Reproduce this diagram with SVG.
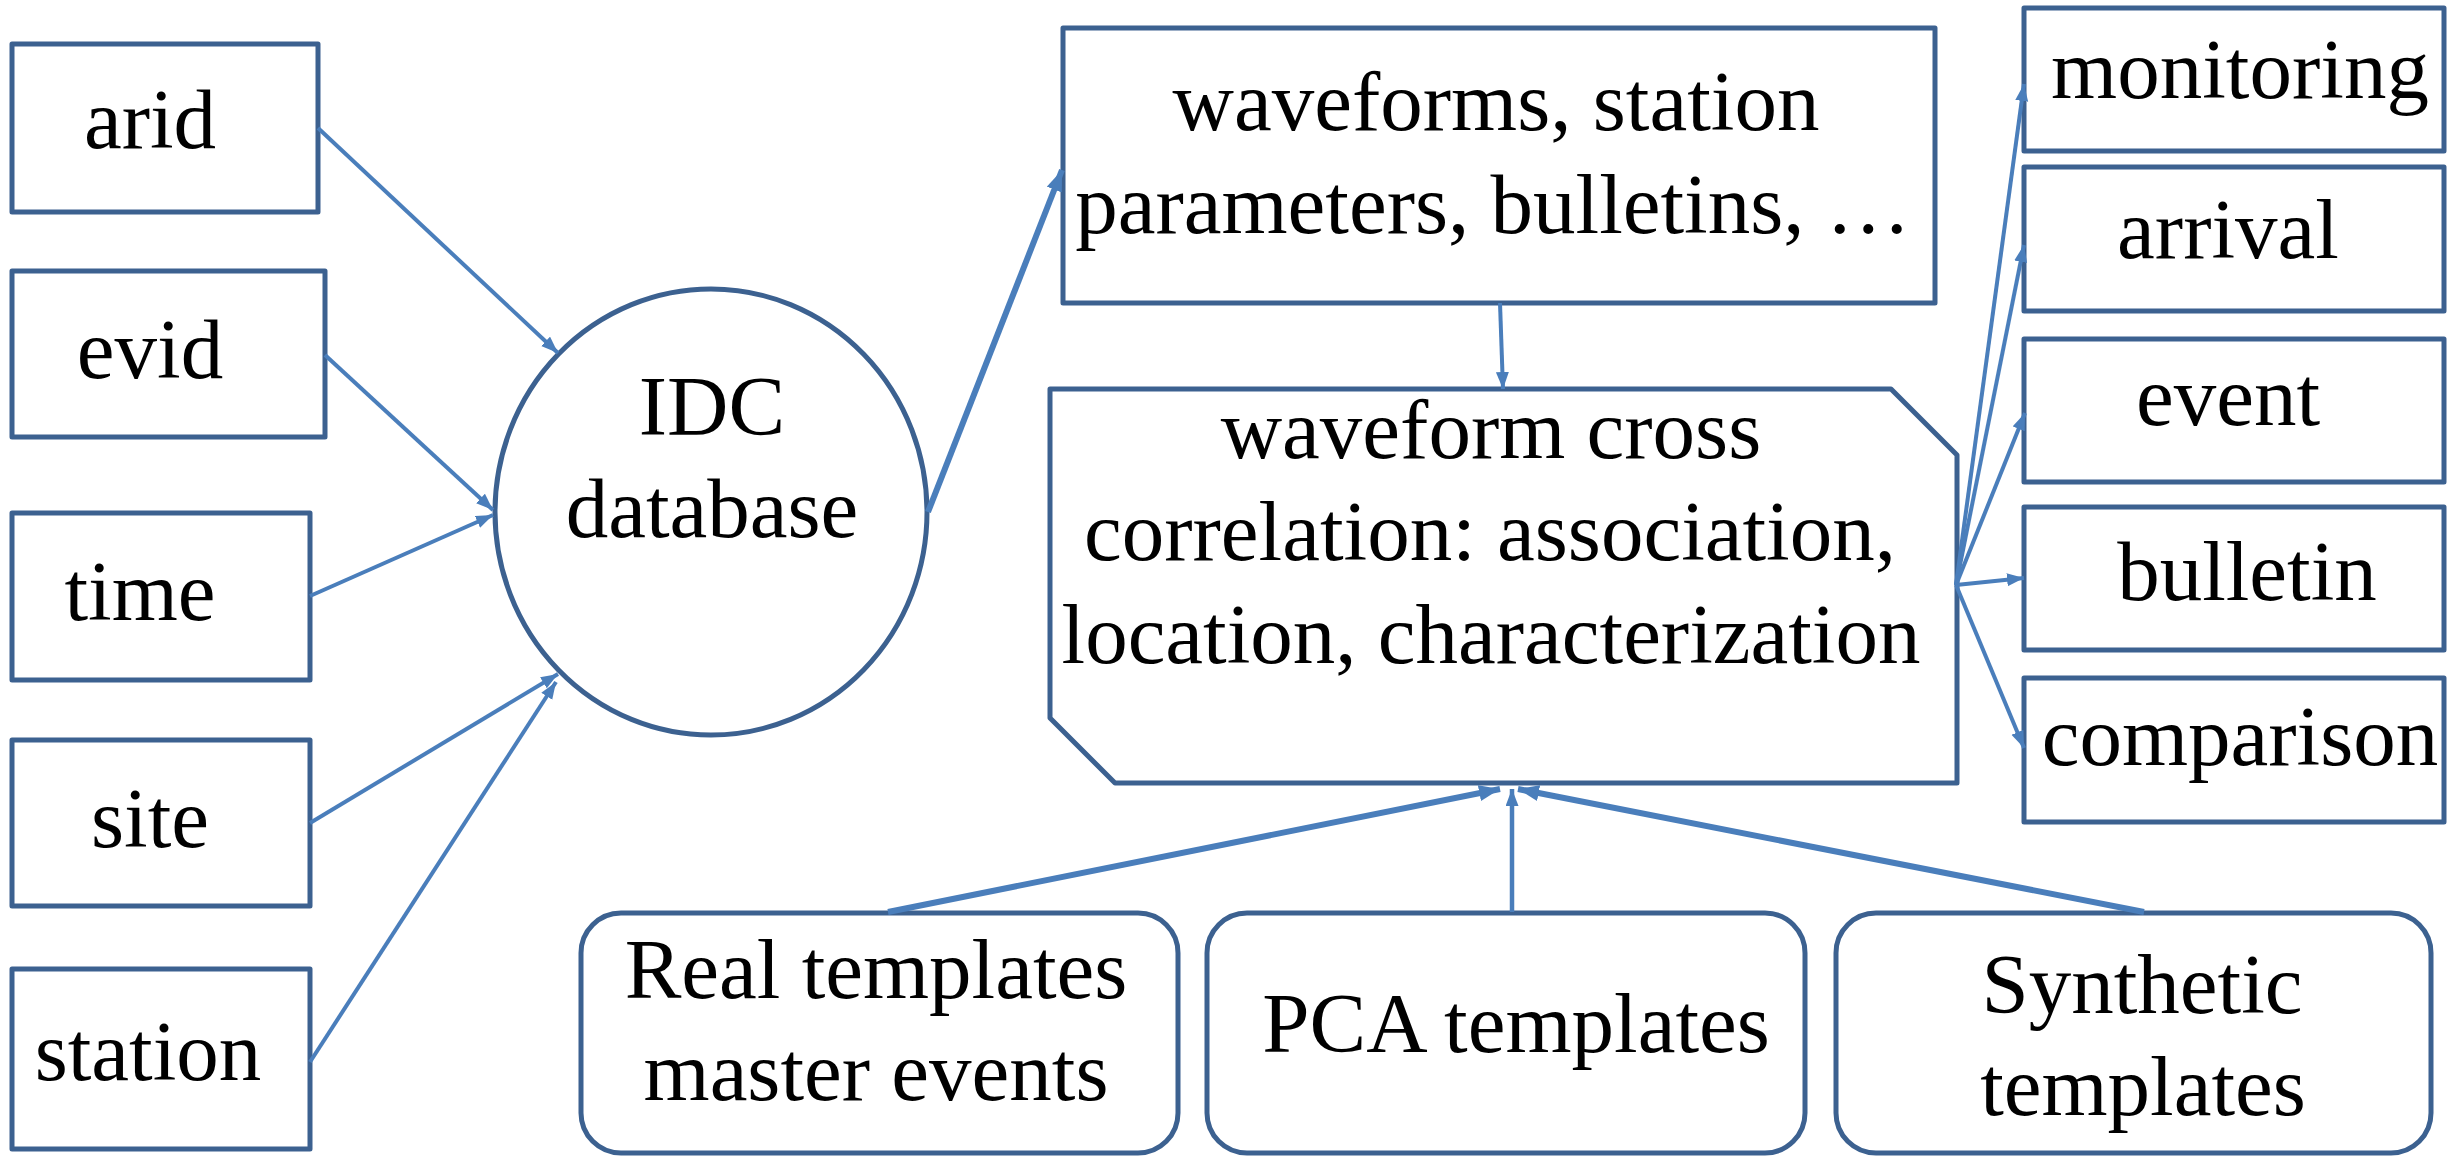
<svg xmlns="http://www.w3.org/2000/svg" width="2448" height="1156" viewBox="0 0 2448 1156">
  <style>
    .box { fill: #ffffff; stroke: #3C6190; stroke-width: 5; stroke-linejoin: round; }
    .lbl { font-family: 'Liberation Serif', 'Times New Roman', Times, serif; font-size: 85px; fill: #000000; text-anchor: middle; }
    .arr { fill: none; stroke: #4A7EBB; stroke-width: 4; marker-end: url(#head); }
    .arr.mid { stroke-width: 4.5; }
    .arr.thick { stroke-width: 6; marker-end: url(#headBig); }
  </style>
  <defs>
    <marker id="head" markerUnits="userSpaceOnUse" markerWidth="20" markerHeight="14" refX="17" refY="6.5" orient="auto">
      <path d="M0,0 L17,6.5 L0,13 z" fill="#4A7EBB"/>
    </marker>
    <marker id="headBig" markerUnits="userSpaceOnUse" markerWidth="24" markerHeight="18" refX="21" refY="8" orient="auto">
      <path d="M0,0 L21,8 L0,16 z" fill="#4A7EBB"/>
    </marker>
  </defs>

  <rect width="2448" height="1156" fill="#ffffff"/>

  <!-- database fields -->
  <g id="arid">
    <rect class="box" x="12" y="44" width="306" height="168"/>
    <text class="lbl" x="150" y="148">arid</text>
  </g>
  <g id="evid">
    <rect class="box" x="12" y="271" width="313" height="166"/>
    <text class="lbl" x="150" y="378">evid</text>
  </g>
  <g id="time">
    <rect class="box" x="12" y="513" width="298" height="167"/>
    <text class="lbl" x="140" y="620">time</text>
  </g>
  <g id="site">
    <rect class="box" x="12" y="740" width="298" height="166"/>
    <text class="lbl" x="150" y="847">site</text>
  </g>
  <g id="station">
    <rect class="box" x="12" y="969" width="298" height="180"/>
    <text class="lbl" x="148" y="1080">station</text>
  </g>

  <!-- central database -->
  <g id="idc-database">
    <ellipse class="box" cx="711" cy="512" rx="216" ry="223"/>
    <text class="lbl" x="712" y="435">IDC</text>
    <text class="lbl" x="712" y="537">database</text>
  </g>

  <!-- data products -->
  <g id="waveforms">
    <rect class="box" x="1063" y="28" width="872" height="275"/>
    <text class="lbl" x="1496" y="130">waveforms, station</text>
    <text class="lbl" x="1493" y="233">parameters, bulletins, …</text>
  </g>

  <g id="cross-correlation">
    <path class="box" d="M1050,389 L1891,389 L1957,455 L1957,783 L1115,783 L1050,718 Z"/>
    <text class="lbl" x="1491" y="458">waveform cross</text>
    <text class="lbl" x="1490" y="560">correlation: association,</text>
    <text class="lbl" x="1491" y="663">location, characterization</text>
  </g>

  <!-- outputs -->
  <g id="monitoring">
    <rect class="box" x="2024" y="8" width="420" height="143"/>
    <text class="lbl" x="2240" y="98">monitoring</text>
  </g>
  <g id="arrival">
    <rect class="box" x="2024" y="167" width="420" height="144"/>
    <text class="lbl" x="2228" y="258">arrival</text>
  </g>
  <g id="event">
    <rect class="box" x="2024" y="339" width="420" height="143"/>
    <text class="lbl" x="2228" y="425">event</text>
  </g>
  <g id="bulletin">
    <rect class="box" x="2024" y="507" width="420" height="143"/>
    <text class="lbl" x="2247" y="600">bulletin</text>
  </g>
  <g id="comparison">
    <rect class="box" x="2024" y="678" width="420" height="144"/>
    <text class="lbl" x="2240" y="765">comparison</text>
  </g>

  <!-- template sources -->
  <g id="real-templates">
    <rect class="box" x="581" y="913" width="597" height="240" rx="40" ry="40"/>
    <text class="lbl" x="876" y="998">Real templates</text>
    <text class="lbl" x="876" y="1100">master events</text>
  </g>
  <g id="pca-templates">
    <rect class="box" x="1207" y="913" width="598" height="240" rx="40" ry="40"/>
    <text class="lbl" x="1516" y="1052">PCA templates</text>
  </g>
  <g id="synthetic-templates">
    <rect class="box" x="1836" y="913" width="595" height="240" rx="40" ry="40"/>
    <text class="lbl" x="2142" y="1013">Synthetic</text>
    <text class="lbl" x="2143" y="1115">templates</text>
  </g>

  <!-- connectors -->
  <g id="connectors">
    <line class="arr" x1="318" y1="128" x2="558" y2="353"/>
    <line class="arr" x1="325" y1="355" x2="493" y2="510"/>
    <line class="arr" x1="310" y1="596" x2="493" y2="515"/>
    <line class="arr" x1="310" y1="823" x2="558" y2="674"/>
    <line class="arr" x1="310" y1="1062" x2="556" y2="682"/>

    <line class="arr thick" x1="928" y1="512" x2="1062" y2="170"/>
    <line class="arr" x1="1500" y1="303" x2="1503" y2="389"/>

    <line class="arr" x1="1956" y1="585" x2="2024" y2="84"/>
    <line class="arr" x1="1956" y1="585" x2="2024" y2="245"/>
    <line class="arr" x1="1956" y1="585" x2="2025" y2="413"/>
    <line class="arr" x1="1956" y1="585" x2="2024" y2="578"/>
    <line class="arr" x1="1956" y1="585" x2="2024" y2="748"/>

    <line class="arr thick" x1="888" y1="912" x2="1500" y2="789"/>
    <line class="arr mid" x1="1512" y1="912" x2="1512" y2="789"/>
    <line class="arr thick" x1="2144" y1="912" x2="1518" y2="789"/>
  </g>
</svg>
